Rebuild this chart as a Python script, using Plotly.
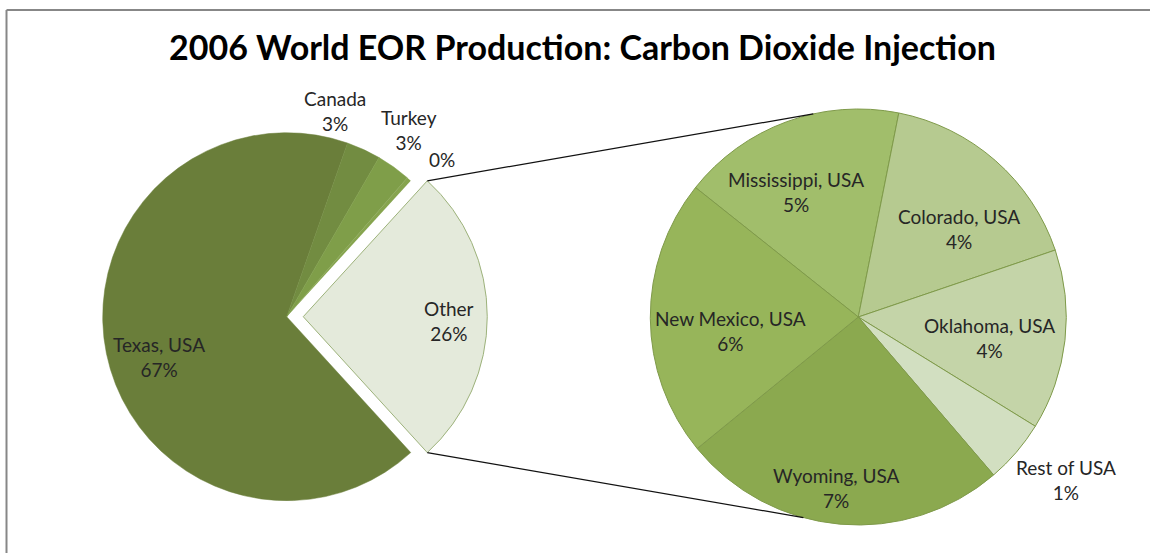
import math
import plotly.graph_objects as go

# ---------------- data ----------------
left_labels = ["Texas, USA", "Canada", "Turkey", "", "Other"]
left_values_known = [67.0, 3.0, 3.0, 0.4]          # % of world CO2-EOR production
right_labels = ["Mississippi, USA", "Colorado, USA", "Oklahoma, USA",
                "Rest of USA", "Wyoming, USA", "New Mexico, USA"]
right_values = [4.6, 4.4, 3.7, 1.3, 6.7, 5.7]
title_text = "2006 World EOR Production: Carbon Dioxide Injection"

other_value = sum(right_values)
left_values = left_values_known + [other_value]
total = sum(left_values)

# ---------------- styles / geometry ----------------
W, H = 1150, 553
FONT = "Lato"
TXT = "#262626"
LAB_SIZE = 19
left_colors = ["#6A7E3A", "#728C41", "#7F9E49", "#86A44E", "#E4EADB"]
right_colors = ["#A1BE6B", "#B6CA90", "#C4D4A8", "#D2DFC1", "#8BA94F", "#97B55A"]

LC = (286.7, 316.7); LR = 184.0; PULL = 0.09
RC = (858.3, 317.0); RR = 208.0
RIGHT_ROT = -51.5
CONN_ANG = (-12.5, 195.3)     # where connector lines meet right pie (deg clockwise from top)

# label placement (absolute angle clockwise from top, radius fraction)
left_lab_pos = [(252.6, 0.73), (13.2, 1.15), (33.2, 1.21), (44.6, 1.20), (91.7, 0.79)]
right_lab_pos = [(-26.4, 0.67), (48.9, 0.64), (99.1, 0.64), (128.2, 1.27), (187.4, 0.83), (263.7, 0.62)]


def px(x):
    return x / W


def py(y):
    return 1 - y / H


def pt(c, r, ang):
    a = math.radians(ang)
    return (c[0] + r * math.sin(a), c[1] - r * math.cos(a))


other_deg = other_value / total * 360
left_rot = 90 + other_deg / 2          # Texas starts where "Other" ends
half_l = LR * (1 + PULL)

fig = go.Figure()
fig.add_trace(go.Pie(
    labels=left_labels, values=left_values, sort=False, direction="clockwise",
    rotation=left_rot, pull=[0, 0, 0, 0, PULL], textinfo="none", hoverinfo="skip",
    marker=dict(colors=left_colors,
                line=dict(color=["#6A7E3A", "#728C41", "#7F9E49", "#86A44E", "#9DB27B"],
                          width=[0.5, 0.5, 0.5, 0, 1])),
    domain=dict(x=[px(LC[0] - half_l), px(LC[0] + half_l)],
                y=[py(LC[1] + half_l), py(LC[1] - half_l)]),
    showlegend=False,
))
fig.add_trace(go.Pie(
    labels=right_labels, values=right_values, sort=False, direction="clockwise",
    rotation=RIGHT_ROT, textinfo="none", hoverinfo="skip",
    marker=dict(colors=right_colors, line=dict(color="#7F9A4A", width=1)),
    domain=dict(x=[px(RC[0] - RR), px(RC[0] + RR)],
                y=[py(RC[1] + RR), py(RC[1] - RR)]),
    showlegend=False,
))

annotations = []
# left labels
apex = pt(LC, PULL * LR, 90)
for i, (lab, v) in enumerate(zip(left_labels, left_values)):
    ang, rf = left_lab_pos[i]
    c = apex if i == len(left_values) - 1 else LC
    x, y = pt(c, rf * LR, ang)
    pct = f"{round(v / total * 100)}%"
    txt = f"{lab}<br>{pct}" if lab else pct
    annotations.append(dict(x=px(x), y=py(y), xref="paper", yref="paper", text=txt,
                            showarrow=False, xanchor="center", yanchor="middle",
                            font=dict(family=FONT, size=LAB_SIZE, color=TXT)))
for i, (lab, v) in enumerate(zip(right_labels, right_values)):
    ang, rf = right_lab_pos[i]
    x, y = pt(RC, rf * RR, ang)
    txt = f"{lab}<br>{round(v / total * 100)}%"
    annotations.append(dict(x=px(x), y=py(y), xref="paper", yref="paper", text=txt,
                            showarrow=False, xanchor="center", yanchor="middle",
                            font=dict(family=FONT, size=LAB_SIZE, color=TXT)))

# connector lines from the exploded "Other" slice to the right pie
o_start = 90 - other_deg / 2
o_end = 90 + other_deg / 2
p1 = pt(apex, LR, o_start)
p2 = pt(apex, LR, o_end)
q1 = pt(RC, RR, CONN_ANG[0])
q2 = pt(RC, RR, CONN_ANG[1])
shapes = [
    dict(type="line", xref="paper", yref="paper", x0=px(p1[0]), y0=py(p1[1]),
         x1=px(q1[0]), y1=py(q1[1]), line=dict(color="#111111", width=1.2)),
    dict(type="line", xref="paper", yref="paper", x0=px(p2[0]), y0=py(p2[1]),
         x1=px(q2[0]), y1=py(q2[1]), line=dict(color="#111111", width=1.2)),
    # chart border (left and top edges visible)
    dict(type="line", xref="paper", yref="paper", x0=px(6.5), y0=py(10), x1=px(6.5), y1=py(560),
         line=dict(color="#878787", width=2)),
    dict(type="line", xref="paper", yref="paper", x0=px(6.5), y0=py(10), x1=px(1160), y1=py(10),
         line=dict(color="#878787", width=2)),
]

fig.update_layout(
    width=W, height=H, margin=dict(l=0, r=0, t=0, b=0),
    paper_bgcolor="white", plot_bgcolor="white",
    title=dict(text=f"<b>{title_text}</b>", x=px(582.5), y=py(48),
               xanchor="center", yanchor="middle",
               font=dict(family=FONT, size=34, color="#000000")),
    annotations=annotations, shapes=shapes,
)

fig.write_html("out.html")
